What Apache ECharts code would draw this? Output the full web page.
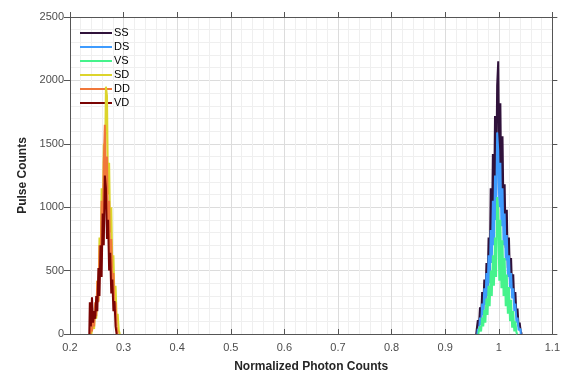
<!DOCTYPE html>
<html>
<head>
<meta charset="utf-8">
<script src="https://cdn.jsdelivr.net/npm/echarts@6/dist/echarts.min.js"></script>
<style>
html,body{margin:0;padding:0;background:#fff;}
#chart{width:563px;height:379px;}
</style>
</head>
<body>
<div id="chart"></div>
<script>
// Histogram bin width (normalized photon counts)
var binWidth = 0.002;

// Series names
var seriesNames = ['SS', 'DS', 'VS', 'SD', 'DD', 'VD'];

// First bin centre of each series
var ssStart = 0.958;
var dsStart = 0.960;
var vsStart = 0.962;
var sdStart = 0.240;
var ddStart = 0.238;
var vdStart = 0.236;

// Pulse counts per bin
var ssCounts = [0, 40, 110, 60, 210, 120, 330, 190, 430, 260, 560, 350, 760, 480, 1150, 720, 1420, 900, 1720, 1100, 1960, 2150, 1250, 1820, 1000, 1560, 900, 1180, 680, 980, 520, 760, 420, 600, 330, 470, 240, 330, 150, 200, 60, 90, 20, 0];
var dsCounts = [0, 40, 20, 130, 70, 240, 150, 360, 230, 480, 300, 620, 400, 820, 560, 1050, 700, 1250, 900, 1590, 1450, 1000, 1350, 850, 1150, 700, 950, 580, 780, 450, 620, 360, 480, 280, 360, 180, 240, 90, 130, 30, 40, 0];
var vsCounts = [0, 30, 60, 20, 130, 60, 190, 90, 280, 150, 380, 220, 500, 300, 620, 380, 760, 450, 1080, 980, 420, 900, 360, 740, 300, 600, 220, 470, 160, 370, 100, 270, 50, 180, 20, 100, 10, 0];
var sdCounts = [0, 30, 80, 40, 220, 120, 420, 260, 760, 500, 1150, 800, 1500, 1200, 1950, 1880, 1100, 1350, 800, 1000, 520, 620, 280, 380, 130, 160, 30, 0];
var ddCounts = [0, 60, 20, 120, 60, 250, 140, 420, 250, 700, 450, 1050, 700, 1350, 1650, 1100, 1400, 800, 1050, 560, 750, 360, 480, 180, 250, 60, 0];
var vdCounts = [0, 250, 60, 290, 90, 180, 120, 300, 180, 520, 300, 700, 450, 950, 700, 1250, 1150, 750, 900, 500, 640, 320, 430, 180, 260, 60, 0];

// Axis ticks
var xMin = 0.2, xMax = 1.1, xStep = 0.1;
var yMin = 0, yMax = 2500, yStep = 500;

var colors = ['#30123b', '#3e9bfe', '#46f38c', '#dcd42c', '#f0773a', '#7a0403'];

function toPairs(start, counts) {
  return counts.map(function (c, i) {
    return [+(start + i * binWidth).toFixed(4), c];
  });
}

var allData = [
  toPairs(ssStart, ssCounts),
  toPairs(dsStart, dsCounts),
  toPairs(vsStart, vsCounts),
  toPairs(sdStart, sdCounts),
  toPairs(ddStart, ddCounts),
  toPairs(vdStart, vdCounts)
];

var series = seriesNames.map(function (n, i) {
  return {
    name: n,
    type: 'line',
    step: 'middle',
    data: allData[i],
    showSymbol: false,
    symbol: 'none',
    lineStyle: { color: colors[i], width: 2 },
    itemStyle: { color: colors[i] },
    animation: false,
    z: 3 + i
  };
});

var font = 'Liberation Sans, Arial, Helvetica, sans-serif';
var chart = echarts.init(document.getElementById('chart'), null, { renderer: 'canvas' });

chart.setOption({
  backgroundColor: '#ffffff',
  animation: false,
  color: colors,
  grid: { left: 70, right: 10, top: 17, bottom: 45, containLabel: false },
  legend: {
    orient: 'vertical',
    left: 80,
    top: 26,
    icon: 'rect',
    itemWidth: 32,
    itemHeight: 2,
    itemGap: 0,
    padding: 0,
    textStyle: { fontFamily: font, fontSize: 11, color: '#000', lineHeight: 14, padding: [0, 0, 0, -3] },
    data: seriesNames
  },
  xAxis: [{
    type: 'value',
    min: xMin, max: xMax, interval: xStep,
    position: 'bottom',
    name: 'Normalized Photon Counts',
    nameLocation: 'middle',
    nameGap: 27,
    nameTextStyle: { fontFamily: font, fontSize: 12, fontWeight: 'bold', color: '#262626' },
    axisLine: { show: true, onZero: false, lineStyle: { color: '#555', width: 1 } },
    axisTick: { show: true, inside: true, length: 5, lineStyle: { color: '#555' } },
    axisLabel: { fontFamily: font, fontSize: 11, color: '#4d4d4d', margin: 8 },
    splitLine: { show: true, lineStyle: { color: '#dcdcdc', width: 1 } },
    minorTick: { show: false, splitNumber: 5 },
    minorSplitLine: { show: true, lineStyle: { color: '#efefef', width: 1 } }
  }, {
    type: 'value',
    min: xMin, max: xMax, interval: xStep,
    position: 'top',
    axisLine: { show: true, onZero: false, lineStyle: { color: '#555', width: 1 } },
    axisTick: { show: true, inside: false, length: 5, lineStyle: { color: '#555' } },
    axisLabel: { show: false },
    splitLine: { show: false }
  }],
  yAxis: [{
    type: 'value',
    min: yMin, max: yMax, interval: yStep,
    position: 'left',
    name: 'Pulse Counts',
    nameLocation: 'middle',
    nameGap: 38,
    nameTextStyle: { fontFamily: font, fontSize: 12, fontWeight: 'bold', color: '#262626' },
    axisLine: { show: true, onZero: false, lineStyle: { color: '#555', width: 1 } },
    axisTick: { show: true, inside: false, length: 6, lineStyle: { color: '#555' } },
    axisLabel: { fontFamily: font, fontSize: 11, color: '#4d4d4d', margin: 6, formatter: function (v) { return String(v); } },
    splitLine: { show: true, lineStyle: { color: '#dcdcdc', width: 1 } },
    minorTick: { show: false, splitNumber: 5 },
    minorSplitLine: { show: true, lineStyle: { color: '#efefef', width: 1 } }
  }, {
    type: 'value',
    min: yMin, max: yMax, interval: yStep,
    position: 'right',
    axisLine: { show: true, onZero: false, lineStyle: { color: '#555', width: 1 } },
    axisTick: { show: true, inside: false, length: 5, lineStyle: { color: '#555' } },
    axisLabel: { show: false },
    splitLine: { show: false }
  }],
  series: series
});
</script>
</body>
</html>
